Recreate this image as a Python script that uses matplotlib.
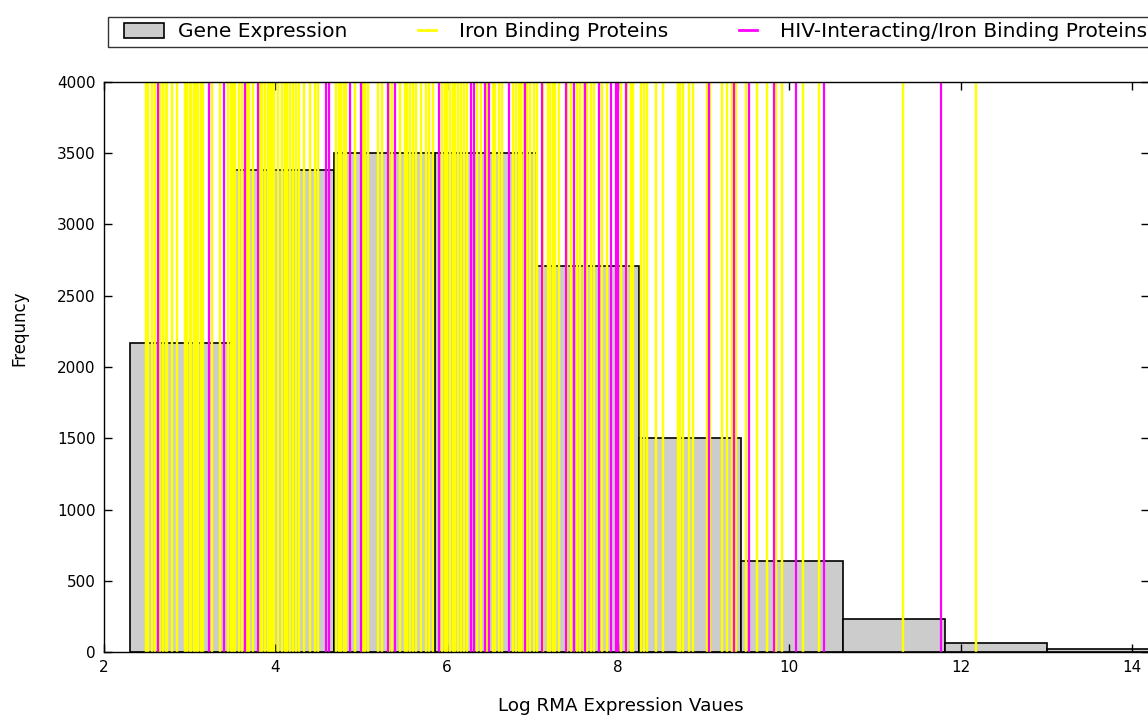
import matplotlib
matplotlib.use("Agg")
import numpy as np
import matplotlib.pyplot as plt
from matplotlib.patches import Patch, Rectangle
from matplotlib.lines import Line2D
from matplotlib.legend_handler import HandlerBase

# ---------------- data ----------------
bin_edges = [2.30, 3.49, 4.68, 5.87, 7.06, 8.25, 9.44, 10.63, 11.82, 13.01, 14.20]
bin_counts = [2170, 3380, 3500, 3500, 2710, 1500, 640, 230, 60, 20]

iron_binding = [
    2.49, 2.51, 2.56, 2.59, 2.65, 2.69, 2.72, 2.74, 2.79, 2.85,
    2.95, 2.97, 3.00, 3.02, 3.05, 3.07, 3.10, 3.13, 3.16, 3.26, 3.35,
    3.45, 3.48, 3.51, 3.53, 3.58, 3.61, 3.67, 3.69, 3.74, 3.82,
    3.85, 3.88, 3.91, 3.94, 3.96, 3.99, 4.03, 4.08, 4.11, 4.14, 4.17,
    4.21, 4.24, 4.28, 4.34, 4.40, 4.46, 4.50,
    4.71, 4.74, 4.77, 4.80, 4.83, 4.93, 5.02, 5.05, 5.08,
    5.20, 5.24, 5.33, 5.36, 5.45, 5.51, 5.54, 5.57, 5.61, 5.64,
    5.70, 5.76, 5.80, 5.84, 5.95, 5.98, 6.01, 6.04, 6.07, 6.10, 6.13,
    6.17, 6.20, 6.24, 6.36, 6.40, 6.47, 6.54, 6.57, 6.61, 6.65,
    6.77, 6.81, 6.84, 6.87, 6.90, 6.94, 6.97, 7.02, 7.06, 7.13,
    7.18, 7.21, 7.24, 7.27, 7.31, 7.41, 7.45, 7.52, 7.56, 7.60,
    7.64, 7.68, 7.72, 7.81, 7.87, 8.03, 8.11, 8.15, 8.18,
    8.27, 8.31, 8.34, 8.45, 8.53, 8.70, 8.73, 8.76, 8.83, 8.88,
    9.04, 9.08, 9.21, 9.27, 9.33, 9.38, 9.49, 9.62, 9.74, 9.84, 9.92,
    10.16, 10.35, 11.33, 12.18,
]

hiv_iron_binding = [
    2.63, 3.23, 3.40, 3.65, 3.80, 4.59, 4.63, 4.87, 5.00, 5.31, 5.40,
    5.91, 6.29, 6.32, 6.45, 6.50, 6.73, 6.92, 7.11, 7.39, 7.49, 7.62, 7.78,
    7.92, 7.98, 8.00, 8.09, 9.06, 9.35, 9.53, 9.82, 10.08, 10.41, 11.77,
]

x_ticks = [2, 4, 6, 8, 10, 12, 14]
y_ticks = [0, 500, 1000, 1500, 2000, 2500, 3000, 3500, 4000]

labels = ["Gene Expression", "Iron Binding Proteins",
          "HIV-Interacting/Iron Binding Proteins"]

# ---------------- figure ----------------
W, H = 1148, 721
plt.rcParams["font.family"] = ["DejaVu Sans"]
fig = plt.figure(figsize=(W / 100, H / 100), dpi=100)

ax = fig.add_axes([104 / W, 1 - 652 / H, (1149 - 104) / W, (652 - 82) / H])

edges = np.array(bin_edges)
ax.bar(edges[:-1], bin_counts, width=np.diff(edges), align="edge",
       color="#cccccc", edgecolor="black", linewidth=1.2, zorder=1)

for v in iron_binding:
    ax.axvline(v, color="#ffff00", linewidth=1.75, zorder=2)
for v in hiv_iron_binding:
    ax.axvline(v, color="#ff00ff", linewidth=1.6, zorder=3)

ax.set_xlim(2, 14.2)
ax.set_ylim(0, 4000)
ax.set_xticks(x_ticks)
ax.set_yticks(y_ticks)
ax.tick_params(direction="in", top=True, right=True, length=6, width=1,
               labelsize=11, pad=6)
for s in ax.spines.values():
    s.set_linewidth(1.0)
    s.set_zorder(5)

ax.set_xlabel("Log RMA Expression Vaues", fontsize=13.2)
ax.set_ylabel("Frequncy", fontsize=12)
ax.xaxis.set_label_coords((621 - 104) / 1045, (652 - 697) / 570)
ax.yaxis.set_label_coords((28 - 104) / 1045, (652 - 328) / 570)


class ShortLineHandler(HandlerBase):
    def create_artists(self, legend, orig_handle, xdescent, ydescent,
                       width, height, fontsize, trans):
        y = height / 2 - ydescent
        ln = Line2D([-xdescent + 0.46 * width, -xdescent + 0.82 * width], [y, y],
                    color=orig_handle.get_color(),
                    linewidth=orig_handle.get_linewidth(), transform=trans)
        return [ln]


class OffsetPatchHandler(HandlerBase):
    def create_artists(self, legend, orig_handle, xdescent, ydescent,
                       width, height, fontsize, trans):
        off = 0.2 * width
        r = Rectangle((-xdescent + off, -ydescent), width - off, height,
                      facecolor=orig_handle.get_facecolor(),
                      edgecolor=orig_handle.get_edgecolor(),
                      linewidth=orig_handle.get_linewidth(), transform=trans)
        return [r]


h_gene = Patch(facecolor="#cccccc", edgecolor="black", linewidth=1.2)
h_iron = Line2D([], [], color="#ffff00", linewidth=2)
h_hiv = Line2D([], [], color="#ff00ff", linewidth=2)

fs = 14.5
leg = fig.legend([h_gene, h_iron, h_hiv], labels, ncol=3, loc="lower left",
                 bbox_to_anchor=(108 / W, 1 - 47 / H, (1153 - 108) / W, 35 / H),
                 mode="expand", fontsize=fs, frameon=True, fancybox=False,
                 edgecolor="black", handlelength=2.5, handleheight=0.8,
                 handletextpad=0.7, borderpad=0.28, borderaxespad=0,
                 handler_map={Line2D: ShortLineHandler(),
                              Patch: OffsetPatchHandler()})
leg.get_frame().set_linewidth(1.0)

fig.savefig("out.png", dpi=100)
